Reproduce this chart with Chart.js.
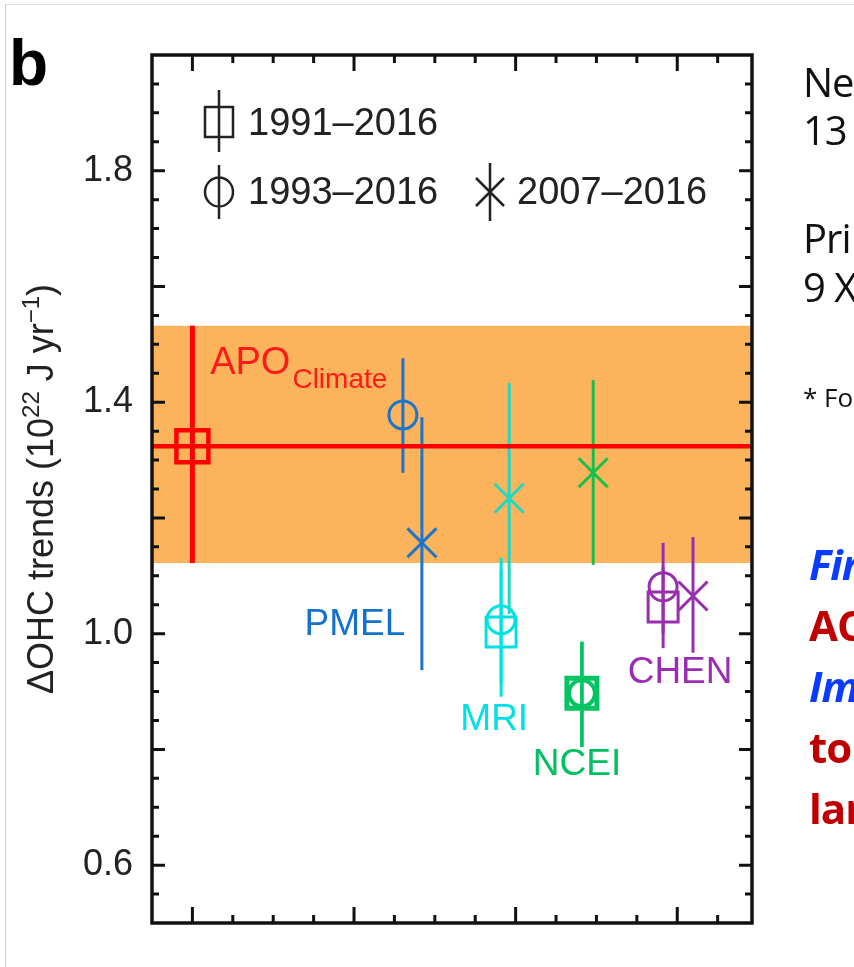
<!DOCTYPE html>
<html lang="en">
<head>
  <meta charset="UTF-8" />
  <title>ΔOHC trends</title>
  <script src="https://cdn.jsdelivr.net/npm/chart.js@4"></script>
  <style>
    body {
      margin: 0;
      padding: 0;
      background: #fff;
      overflow: hidden;
    }
    .page {
      position: relative;
      width: 854px;
      height: 967px;
      overflow: hidden;
      background: #fff;
    }
    .frame {
      position: absolute;
      left: 5px;
      top: 4px;
      right: -10px;
      bottom: -10px;
      border-left: 1px solid #cfcfcf;
      border-top: 1px solid #dcdcdc;
    }
    canvas {
      position: absolute;
      left: 0;
      top: 0;
    }
    .side {
      position: absolute;
      left: 803px;
      white-space: nowrap;
      font-family: "Open Sans", sans-serif;
      font-size: 40px;
      line-height: 40px;
      letter-spacing: -1px;
      color: #111;
    }
    .side.small { font-size: 26px; line-height: 26px; letter-spacing: 0; }
    .side.blue { left: 809px; color: #0a3cff; font-weight: bold; font-style: italic; font-size: 42px; line-height: 42px; }
    .side.red { left: 809px; color: #c00000; font-weight: bold; font-size: 42px; line-height: 42px; }
  </style>
</head>
<body>
  <div class="page">
    <div class="frame"></div>
    <canvas id="ohcChart" width="854" height="967"></canvas>

    <div class="side" style="top:62px">Ne</div>
    <div class="side" style="top:110px">13</div>
    <div class="side" style="top:218px">Pri</div>
    <div class="side" style="top:267px">9 X</div>
    <div class="side small" style="top:384px">* Fo</div>
    <div class="side blue" style="top:543px">Fir</div>
    <div class="side red" style="top:604px">AC</div>
    <div class="side blue" style="top:665px">Im</div>
    <div class="side red" style="top:726px">to</div>
    <div class="side red" style="top:787px">lar</div>
  </div>

  <script>
    // ---- data ----
    const periods = ['1991–2016', '1993–2016', '2007–2016'];
    const yLabels = [0.6, 1.0, 1.4, 1.8];
    const yMin = 0.5, yMax = 2.0;
    const xMax = 14.85; // x axis: one minor tick per unit

    // APO_Climate (1991–2016), also the shaded band
    const apoX = 1.0;
    const apoY = 1.324;
    const apoLo = 1.122;
    const apoHi = 1.532;

    // 1991–2016 (squares)
    const sqName = ['MRI', 'NCEI', 'CHEN'];
    const sqX = [8.64, 10.64, 12.65];
    const sqY = [1.003, 0.897, 1.046];
    const sqLo = [0.891, 0.804, 0.975];
    const sqHi = [1.110, 0.986, 1.115];

    // 1993–2016 (circles)
    const ciName = ['PMEL', 'MRI', 'NCEI', 'CHEN'];
    const ciX = [6.21, 8.64, 10.64, 12.65];
    const ciY = [1.378, 1.024, 0.897, 1.081];
    const ciLo = [1.278, 0.915, 0.804, 1.000];
    const ciHi = [1.476, 1.131, 0.986, 1.157];

    // 2007–2016 (crosses)
    const crName = ['PMEL', 'MRI', 'NCEI', 'CHEN'];
    const crX = [6.68, 8.84, 10.92, 13.39];
    const crY = [1.157, 1.234, 1.278, 1.065];
    const crLo = [0.937, 1.034, 1.119, 0.967];
    const crHi = [1.374, 1.433, 1.438, 1.167];

    // ---- styles ----
    const colorOf = { APO: '#ff0000', PMEL: '#1c74cc', MRI: '#00e2e2', NCEI: '#03c462', CHEN: '#982eae' };
    const crossColorOf = { PMEL: '#1c74cc', MRI: '#1fd8c4', NCEI: '#17bf4a', CHEN: '#982eae' };
    const labelColorOf = { APO: '#ff1a1a', PMEL: '#1471cc', MRI: '#00e0e6', NCEI: '#00c060', CHEN: '#9a2db0' };
    const FONT = '"Liberation Sans", Arial, sans-serif';
    Chart.defaults.font.family = FONT;

    function errorBar(xv, lo, hi, color, width) {
      return {
        type: 'line',
        data: [{ x: xv, y: lo }, { x: xv, y: hi }],
        borderColor: color,
        borderWidth: width,
        pointRadius: 0,
        fill: false,
        order: 5
      };
    }

    const datasets = [];

    // orange APO band
    datasets.push({
      type: 'line',
      data: [{ x: 0, y: apoHi }, { x: xMax, y: apoHi }],
      borderColor: 'transparent',
      pointRadius: 0,
      fill: '+1',
      backgroundColor: '#fbb45c',
      order: 10
    });
    datasets.push({
      type: 'line',
      data: [{ x: 0, y: apoLo }, { x: xMax, y: apoLo }],
      borderColor: 'transparent',
      pointRadius: 0,
      fill: false,
      order: 10
    });

    // APO mean line
    datasets.push({
      type: 'line',
      data: [{ x: 0, y: apoY }, { x: xMax, y: apoY }],
      borderColor: '#ff0000',
      borderWidth: 4.5,
      pointRadius: 0,
      fill: false,
      order: 4
    });

    // error bars
    datasets.push(errorBar(apoX, apoLo, apoHi, colorOf.APO, 5));
    sqName.forEach((n, i) => datasets.push(errorBar(sqX[i], sqLo[i], sqHi[i], colorOf[n], n === 'NCEI' ? 3.5 : 3)));
    ciName.forEach((n, i) => datasets.push(errorBar(ciX[i], ciLo[i], ciHi[i], colorOf[n], 3)));
    crName.forEach((n, i) => datasets.push(errorBar(crX[i], crLo[i], crHi[i], crossColorOf[n], 3)));

    // markers
    datasets.push({
      label: periods[0],
      data: [{ x: apoX, y: apoY }].concat(sqX.map((xv, i) => ({ x: xv, y: sqY[i] }))),
      pointStyle: 'rect',
      pointRadius: [22.6, 21.2, 21.2, 21.2],
      pointBorderWidth: [4.5, 3, 5, 3],
      pointBorderColor: [colorOf.APO].concat(sqName.map(n => colorOf[n])),
      pointBackgroundColor: 'transparent',
      order: 1
    });
    datasets.push({
      label: periods[1],
      data: ciX.map((xv, i) => ({ x: xv, y: ciY[i] })),
      pointStyle: 'circle',
      pointRadius: [14, 14, 13, 14],
      pointBorderWidth: [3, 3, 4, 3],
      pointBorderColor: ciName.map(n => colorOf[n]),
      pointBackgroundColor: 'transparent',
      order: 1
    });
    datasets.push({
      label: periods[2],
      data: crX.map((xv, i) => ({ x: xv, y: crY[i] })),
      pointStyle: 'crossRot',
      pointRadius: 20.5,
      pointBorderWidth: 3,
      pointBorderColor: crName.map(n => crossColorOf[n]),
      pointBackgroundColor: 'transparent',
      order: 1
    });

    // frame, ticks, legend, labels, axis title
    const decor = {
      id: 'decor',
      afterDraw(chart) {
        const { ctx, chartArea: a, scales: { x, y } } = chart;
        ctx.save();

        // plot frame
        ctx.strokeStyle = '#111';
        ctx.lineWidth = 3.5;
        ctx.strokeRect(a.left, a.top, a.right - a.left, a.bottom - a.top);

        // inward ticks
        ctx.lineWidth = 3;
        ctx.beginPath();
        for (let i = 11; i < 40; i++) {
          const py = y.getPixelForValue(i * 0.05);
          const len = i % 4 === 0 ? 13 : 7;
          ctx.moveTo(a.left, py); ctx.lineTo(a.left + len, py);
          ctx.moveTo(a.right, py); ctx.lineTo(a.right - len, py);
        }
        for (let k = 1; k <= 14; k++) {
          const px = x.getPixelForValue(k);
          const len = (k - 1) % 4 === 0 ? 16 : 8;
          ctx.moveTo(px, a.bottom); ctx.lineTo(px, a.bottom - len);
          ctx.moveTo(px, a.top); ctx.lineTo(px, a.top + len);
        }
        ctx.stroke();

        // panel letter
        ctx.fillStyle = '#000';
        ctx.font = 'bold 64px ' + FONT;
        ctx.textAlign = 'left';
        ctx.textBaseline = 'alphabetic';
        ctx.fillText('b', 9, 85);

        // y axis title with superscripts
        const parts = [
          { t: 'ΔOHC trends (10', sup: false },
          { t: '22', sup: true },
          { t: ' J yr', sup: false },
          { t: '−1', sup: true },
          { t: ')', sup: false }
        ];
        const big = '36px ' + FONT, small = '24px ' + FONT;
        let total = 0;
        parts.forEach(p => { ctx.font = p.sup ? small : big; total += ctx.measureText(p.t).width; });
        ctx.translate(53, (a.top + a.bottom) / 2);
        ctx.rotate(-Math.PI / 2);
        ctx.fillStyle = '#222';
        let cx = -total / 2;
        parts.forEach(p => {
          ctx.font = p.sup ? small : big;
          ctx.fillText(p.t, cx, p.sup ? -14 : 0);
          cx += ctx.measureText(p.t).width;
        });
        ctx.setTransform(1, 0, 0, 1, 0, 0);

        // legend
        ctx.strokeStyle = '#222';
        ctx.lineWidth = 2.5;
        ctx.beginPath();
        ctx.rect(205, 107, 28, 30);
        ctx.moveTo(219, 90); ctx.lineTo(219, 152);
        ctx.stroke();
        ctx.beginPath();
        ctx.ellipse(219, 192, 14, 14.5, 0, 0, Math.PI * 2);
        ctx.moveTo(219, 165); ctx.lineTo(219, 219);
        ctx.stroke();
        ctx.beginPath();
        ctx.moveTo(476, 178); ctx.lineTo(504, 206);
        ctx.moveTo(504, 178); ctx.lineTo(476, 206);
        ctx.moveTo(490, 163); ctx.lineTo(490, 221);
        ctx.stroke();
        ctx.fillStyle = '#222';
        ctx.font = '38px ' + FONT;
        ctx.fillText(periods[0], 248, 135);
        ctx.fillText(periods[1], 248, 204);
        ctx.fillText(periods[2], 517, 204);

        // product labels (placed in data units)
        ctx.textAlign = 'center';
        ctx.textBaseline = 'middle';
        ctx.font = '37px ' + FONT;
        [['PMEL', 5.02, 1.015], ['MRI', 8.47, 0.851], ['NCEI', 10.52, 0.773], ['CHEN', 13.07, 0.932]].forEach(([n, lx, ly]) => {
          ctx.fillStyle = labelColorOf[n];
          ctx.fillText(n, x.getPixelForValue(lx), y.getPixelForValue(ly));
        });
        ctx.textAlign = 'left';
        ctx.textBaseline = 'alphabetic';
        ctx.fillStyle = labelColorOf.APO;
        const ax = x.getPixelForValue(1.44), ay = y.getPixelForValue(1.449);
        ctx.font = '38px ' + FONT;
        ctx.fillText('APO', ax, ay);
        const aw = ctx.measureText('APO').width;
        ctx.font = '28px ' + FONT;
        ctx.fillText('Climate', ax + aw + 2, ay + 14);

        ctx.restore();
      }
    };

    const chart = new Chart(document.getElementById('ohcChart').getContext('2d'), {
      type: 'scatter',
      data: { datasets: datasets },
      options: {
        responsive: false,
        animation: false,
        devicePixelRatio: 1,
        layout: { padding: { top: 55, right: 102, bottom: 0, left: 0 } },
        plugins: {
          legend: { display: false },
          tooltip: { enabled: false }
        },
        scales: {
          x: {
            type: 'linear',
            min: 0,
            max: xMax,
            grid: { display: false, drawTicks: false },
            border: { display: false },
            ticks: { display: false },
            afterFit: s => { s.height = 44; }
          },
          y: {
            type: 'linear',
            min: yMin,
            max: yMax,
            grid: { display: false, drawTicks: false },
            border: { display: false },
            afterBuildTicks: s => { s.ticks = yLabels.map(v => ({ value: v })); },
            ticks: {
              padding: 19,
              color: '#222',
              font: { size: 36 },
              callback: v => v.toFixed(1)
            },
            afterFit: s => { s.width = 152; }
          }
        }
      },
      plugins: [decor]
    });
  </script>
</body>
</html>
